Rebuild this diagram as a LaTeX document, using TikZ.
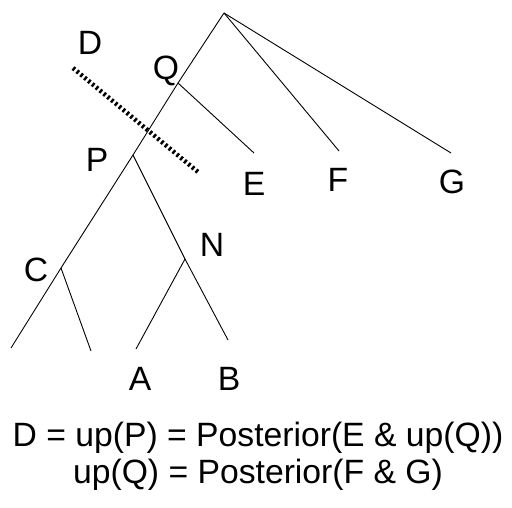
\documentclass[tikz,border=0pt]{standalone}
\usepackage{fontspec}
\setmainfont{Liberation Sans}
\usepackage{tikz}

\begin{document}
\begin{tikzpicture}[x=1pt,y=-1pt,line width=0.9pt,
  every node/.style={font=\fontsize{33.7}{40}\selectfont,inner sep=0pt,anchor=center},
  cut/.style={line width=4.5pt,dash pattern=on 2.4pt off 2.6pt}]
\useasboundingbox (0,0) rectangle (512,508);
% junctions and leaf ends
\coordinate (root) at (224,13);
\coordinate (q) at (178,83);
\coordinate (p) at (133,155);
\coordinate (c) at (61,268);
\coordinate (n) at (185,259);
\coordinate (e) at (254,153);
\coordinate (f) at (339,151);
\coordinate (g) at (451,153);
\coordinate (cl) at (11,348);
\coordinate (cr) at (91,351);
\coordinate (a) at (136,349);
\coordinate (b) at (228,340);
\coordinate (cuta) at (73,68);
\coordinate (cutb) at (198,172);
% labels
\node (lD) at (90,43) {D};
\node (lQ) at (166,71) {Q};
\node (lP) at (97,160) {P};
\node (lE) at (254,184) {E};
\node (lF) at (338,180) {F};
\node (lG) at (452,182) {G};
\node (lC) at (36,270) {C};
\node (lN) at (212,245) {N};
\node (lA) at (140,379) {A};
\node (lB) at (229,379) {B};
\node (eq1) at (258,438) {D = up(P) = Posterior(E \& up(Q))};
\node (eq2) at (258,475) {up(Q) = Posterior(F \& G)};
% tree
\draw (root) -- (q) -- (p) -- (c) -- (cl);
\draw (root) -- (f);
\draw (root) -- (g);
\draw (q) -- (e);
\draw (p) -- (n) -- (b);
\draw (n) -- (a);
\draw (c) -- (cr);
\draw[cut] (cuta) -- (cutb);
\end{tikzpicture}
\end{document}
